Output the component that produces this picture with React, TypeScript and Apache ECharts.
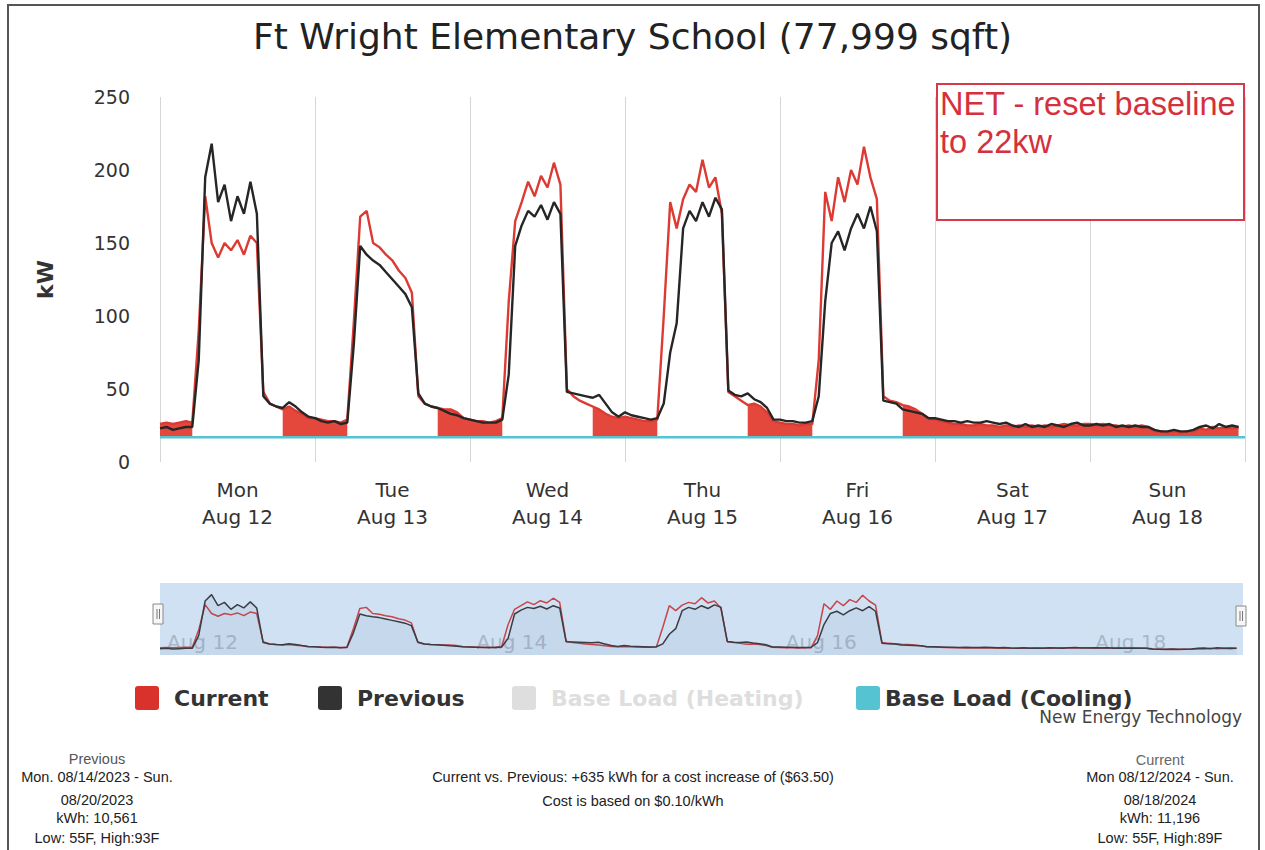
import React, { useEffect, useRef } from 'react';
import * as echarts from 'echarts';

// ---- Labels ----
const titleText = 'Ft Wright Elementary School (77,999 sqft)';
const dayLabels = ['Mon\nAug 12', 'Tue\nAug 13', 'Wed\nAug 14', 'Thu\nAug 15', 'Fri\nAug 16', 'Sat\nAug 17', 'Sun\nAug 18'];
const navigatorDayLabels = ['Aug 12', 'Aug 13', 'Aug 14', 'Aug 15', 'Aug 16', 'Aug 17', 'Aug 18'];
const yTickMax = 250;
const yTickStep = 50;

// ---- Hourly kW, Current week (Aug 12 - Aug 18, 2024) ----
const currentMon = [26, 27, 26, 27, 28, 27, 90, 182, 150, 140, 150, 145, 152, 142, 155, 150, 48, 40, 38, 36, 38, 35, 33, 30];
const currentTue = [30, 29, 28, 28, 27, 29, 95, 168, 172, 150, 147, 142, 138, 131, 126, 116, 45, 40, 38, 37, 36, 36, 34, 30];
const currentWed = [29, 28, 28, 27, 28, 30, 110, 165, 178, 192, 182, 196, 188, 205, 190, 50, 45, 42, 40, 38, 36, 33, 31, 30];
const currentThu = [31, 30, 29, 28, 28, 29, 100, 178, 160, 180, 190, 185, 207, 188, 195, 170, 48, 45, 42, 39, 40, 38, 34, 28];
const currentFri = [27, 26, 26, 25, 26, 26, 70, 185, 165, 195, 178, 200, 190, 216, 195, 180, 45, 42, 41, 39, 38, 36, 33, 30];
const currentSat = [29, 28, 27, 26, 26, 25, 25, 26, 25, 25, 24, 25, 24, 25, 24, 25, 24, 25, 24, 25, 26, 25, 25, 26];
const currentSun = [26, 25, 26, 25, 25, 24, 25, 24, 25, 24, 21, 21, 20, 21, 20, 21, 21, 23, 22, 24, 23, 24, 23, 24];

// ---- Hourly kW, Previous week (Aug 14 - Aug 20, 2023) ----
const previousMon = [23, 24, 22, 23, 24, 24, 70, 195, 218, 178, 190, 165, 182, 170, 192, 170, 45, 40, 38, 37, 41, 38, 34, 31];
const previousTue = [30, 28, 27, 28, 26, 27, 80, 148, 142, 138, 135, 130, 125, 120, 115, 106, 47, 40, 38, 37, 35, 33, 32, 30];
const previousWed = [29, 28, 27, 27, 27, 29, 60, 148, 162, 172, 168, 176, 166, 178, 170, 48, 47, 46, 45, 44, 46, 40, 34, 31];
const previousThu = [34, 32, 31, 30, 29, 30, 40, 75, 95, 160, 172, 165, 178, 168, 181, 173, 49, 46, 45, 47, 43, 41, 37, 29];
const previousFri = [29, 28, 28, 27, 27, 28, 45, 110, 150, 158, 145, 160, 170, 160, 175, 158, 42, 41, 40, 36, 35, 34, 33, 30];
const previousSat = [30, 29, 28, 28, 27, 28, 27, 27, 28, 27, 26, 27, 25, 24, 26, 24, 25, 24, 26, 25, 24, 26, 27, 25];
const previousSun = [25, 26, 25, 26, 24, 25, 24, 25, 24, 24, 22, 21, 21, 22, 21, 21, 22, 24, 25, 23, 26, 24, 25, 24];

// ---- Base loads (kW) ----
const baseLoadCooling = 17;
const baseLoadHeating = 22;

// ---- Occupancy schedule (off-hours shading) ----
const occupiedFromHour = 6;
const occupiedToHour = 18;
const weekendDays = [5, 6];

const current = [...currentMon, ...currentTue, ...currentWed, ...currentThu, ...currentFri, ...currentSat, ...currentSun];
const previous = [...previousMon, ...previousTue, ...previousWed, ...previousThu, ...previousFri, ...previousSat, ...previousSun];
const totalHours = dayLabels.length * 24;

const currentPts = current.map((v, i) => [i, v]);
const previousPts = previous.map((v, i) => [i, v]);
const offHoursPts = current.map((v, i) => {
  const d = Math.floor(i / 24);
  const h = i % 24;
  const off = weekendDays.includes(d) || h < occupiedFromHour || h > occupiedToHour;
  return [i, off ? v : null];
});

const RED = '#dc3a33';
const BLACK = '#262626';
const CYAN = '#55c3d1';
const SQUARE_ICON = 'path://M3,0 H21 Q24,0 24,3 V21 Q24,24 21,24 H3 Q0,24 0,21 V3 Q0,0 3,0 Z';

export default function App() {
  const ref = useRef<HTMLDivElement>(null);
  useEffect(() => {
    if (!ref.current) return;
    const chart = echarts.init(ref.current, undefined, { renderer: 'svg' });
    const legendCommon = {
      orient: 'horizontal',
      padding: 0,
      itemWidth: 24,
      itemHeight: 24,
      icon: SQUARE_ICON,
      inactiveColor: '#dedede',
      top: 686,
      textStyle: { fontFamily: 'DejaVu Sans', fontWeight: 'bold', fontSize: 22, color: '#333', padding: [0, 0, 0, 10] },
    };
    const bottomText = (x: number, y: number, text: string, color = '#222') => ({
      type: 'text',
      x,
      y,
      style: { text, fill: color, font: '14.5px "Liberation Sans"', textAlign: 'center', textVerticalAlign: 'middle' },
    });
    const option: any = {
      animation: false,
      backgroundColor: '#fff',
      title: {
        text: titleText,
        left: 'center',
        top: 18,
        padding: 0,
        textStyle: { fontFamily: 'DejaVu Sans', fontSize: 36, fontWeight: 'normal', color: '#222' },
      },
      legend: [
        { ...legendCommon, left: 135, data: [{ name: 'Current', itemStyle: { color: '#d9322c' } }] },
        { ...legendCommon, left: 318, data: [{ name: 'Previous', itemStyle: { color: '#333' } }] },
        {
          ...legendCommon,
          left: 512,
          data: [{ name: 'Base Load (Heating)', itemStyle: { color: '#dedede' } }],
          selected: { 'Base Load (Heating)': false },
        },
        {
          ...legendCommon,
          left: 856,
          data: [{ name: 'Base Load (Cooling)', itemStyle: { color: CYAN } }],
          textStyle: { ...legendCommon.textStyle, padding: [0, 0, 0, 0] },
        },
      ],
      grid: [
        { left: 160, right: 20, top: 97, height: 365, containLabel: false },
        { left: 160, width: 1083, top: 583, height: 72, show: true, backgroundColor: '#cfe1f3', borderWidth: 0 },
      ],
      xAxis: [
        {
          type: 'value',
          gridIndex: 0,
          min: 0,
          max: totalHours,
          interval: 12,
          axisLine: { show: false },
          axisTick: { show: false },
          splitLine: { show: false },
          axisLabel: {
            margin: 14,
            fontFamily: 'DejaVu Sans',
            fontSize: 20,
            lineHeight: 27,
            color: '#333',
            showMaxLabel: false,
            formatter: (v: number) => (v % 24 === 12 ? dayLabels[(v - 12) / 24] : ''),
          },
        },
        {
          type: 'value',
          gridIndex: 0,
          min: 0,
          max: totalHours,
          interval: 24,
          position: 'bottom',
          axisLine: { show: false },
          axisTick: { show: false },
          axisLabel: { show: false },
          splitLine: { show: true, lineStyle: { color: '#d6d6d6', width: 1 } },
        },
        {
          type: 'value',
          gridIndex: 1,
          min: 0,
          max: totalHours,
          interval: 48,
          axisLine: { show: false },
          axisTick: { show: false },
          splitLine: { show: false },
          axisLabel: {
            inside: true,
            align: 'left',
            verticalAlign: 'bottom',
            margin: 3,
            padding: [0, 0, 0, 7],
            fontFamily: 'DejaVu Sans',
            fontSize: 20,
            color: '#a9b7c9',
            showMaxLabel: false,
            formatter: (v: number) => navigatorDayLabels[v / 24] ?? '',
          },
        },
      ],
      yAxis: [
        {
          type: 'value',
          gridIndex: 0,
          min: 0,
          max: yTickMax,
          interval: yTickStep,
          name: 'kW',
          nameLocation: 'middle',
          nameRotate: 90,
          nameGap: 104,
          nameTextStyle: { fontFamily: 'DejaVu Sans', fontWeight: 'bold', fontSize: 22, color: '#333' },
          axisLine: { show: false },
          axisTick: { show: false },
          splitLine: { show: false },
          axisLabel: { margin: 30, fontFamily: 'DejaVu Sans', fontSize: 19, color: '#333' },
        },
        { type: 'value', gridIndex: 1, min: 0, max: 260, show: false },
      ],
      series: [
        {
          name: 'Current',
          type: 'line',
          xAxisIndex: 0,
          yAxisIndex: 0,
          data: offHoursPts,
          symbol: 'none',
          connectNulls: false,
          lineStyle: { width: 0 },
          areaStyle: { color: '#e4483d', opacity: 1, origin: baseLoadCooling },
          z: 1,
        },
        {
          name: 'Base Load (Heating)',
          type: 'line',
          xAxisIndex: 0,
          yAxisIndex: 0,
          data: [[0, baseLoadHeating], [totalHours, baseLoadHeating]],
          symbol: 'none',
          lineStyle: { color: '#cfcfcf', width: 2 },
          itemStyle: { color: '#dedede' },
        },
        {
          name: 'Current',
          type: 'line',
          xAxisIndex: 0,
          yAxisIndex: 0,
          data: currentPts,
          symbol: 'none',
          lineStyle: { color: RED, width: 2.4 },
          itemStyle: { color: RED },
          z: 3,
        },
        {
          name: 'Previous',
          type: 'line',
          xAxisIndex: 0,
          yAxisIndex: 0,
          data: previousPts,
          symbol: 'none',
          lineStyle: { color: BLACK, width: 2.4 },
          itemStyle: { color: BLACK },
          z: 4,
        },
        {
          name: 'Base Load (Cooling)',
          type: 'line',
          xAxisIndex: 0,
          yAxisIndex: 0,
          data: [[0, baseLoadCooling], [totalHours, baseLoadCooling]],
          symbol: 'none',
          lineStyle: { color: CYAN, width: 2.5 },
          itemStyle: { color: CYAN },
          z: 5,
        },
        {
          name: 'nav-previous',
          type: 'line',
          xAxisIndex: 2,
          yAxisIndex: 1,
          data: previousPts,
          symbol: 'none',
          lineStyle: { color: '#3c3c44', width: 1.5 },
          areaStyle: { color: 'rgba(90,100,160,0.10)' },
          z: 3,
        },
        {
          name: 'nav-current',
          type: 'line',
          xAxisIndex: 2,
          yAxisIndex: 1,
          data: currentPts,
          symbol: 'none',
          lineStyle: { color: '#c8454a', width: 1.5 },
          z: 2,
        },
      ],
      graphic: [
        { type: 'rect', shape: { x: 8, y: 5, width: 1251, height: 850 }, style: { fill: 'none', stroke: '#555', lineWidth: 2 }, silent: true },
        { type: 'rect', shape: { x: 937, y: 84, width: 307, height: 136 }, style: { fill: '#fff', stroke: '#d6394a', lineWidth: 2 }, z: 10 },
        { type: 'text', x: 940, y: 104, z: 11, style: { text: 'NET - reset baseline', fill: '#d6303d', font: '32.5px "Liberation Sans"', textVerticalAlign: 'middle' } },
        { type: 'text', x: 940, y: 142, z: 11, style: { text: 'to 22kw', fill: '#d6303d', font: '32.5px "Liberation Sans"', textVerticalAlign: 'middle' } },
        // navigator handles
        {
          type: 'group', x: 153, y: 604, z: 10, children: [
            { type: 'rect', shape: { x: 0, y: 0, width: 10, height: 20 }, style: { fill: '#f6f6f6', stroke: '#8a8a8a', lineWidth: 1 } },
            { type: 'line', shape: { x1: 4, y1: 5, x2: 4, y2: 15 }, style: { stroke: '#777', lineWidth: 1 } },
            { type: 'line', shape: { x1: 6.5, y1: 5, x2: 6.5, y2: 15 }, style: { stroke: '#777', lineWidth: 1 } },
          ],
        },
        {
          type: 'group', x: 1236, y: 606, z: 10, children: [
            { type: 'rect', shape: { x: 0, y: 0, width: 10, height: 20 }, style: { fill: '#f6f6f6', stroke: '#8a8a8a', lineWidth: 1 } },
            { type: 'line', shape: { x1: 4, y1: 5, x2: 4, y2: 15 }, style: { stroke: '#777', lineWidth: 1 } },
            { type: 'line', shape: { x1: 6.5, y1: 5, x2: 6.5, y2: 15 }, style: { stroke: '#777', lineWidth: 1 } },
          ],
        },
        { type: 'text', x: 1242, y: 717, style: { text: 'New Energy Technology', fill: '#444', font: '17px "DejaVu Sans"', textAlign: 'right', textVerticalAlign: 'middle' } },
        bottomText(97, 759, 'Previous', '#555'),
        bottomText(97, 777, 'Mon. 08/14/2023 - Sun.'),
        bottomText(97, 800, '08/20/2023'),
        bottomText(97, 818, 'kWh: 10,561'),
        bottomText(97, 838, 'Low: 55F, High:93F'),
        bottomText(633, 777, 'Current vs. Previous: +635 kWh for a cost increase of ($63.50)'),
        bottomText(633, 801, 'Cost is based on $0.10/kWh'),
        bottomText(1160, 760, 'Current', '#666'),
        bottomText(1160, 777, 'Mon 08/12/2024 - Sun.'),
        bottomText(1160, 800, '08/18/2024'),
        bottomText(1160, 818, 'kWh: 11,196'),
        bottomText(1160, 838, 'Low: 55F, High:89F'),
      ],
    };
    chart.setOption(option);
    return () => chart.dispose();
  }, []);
  return <div ref={ref} style={{ position: 'absolute', left: 0, top: 0, width: 1265, height: 850 }} />;
}
